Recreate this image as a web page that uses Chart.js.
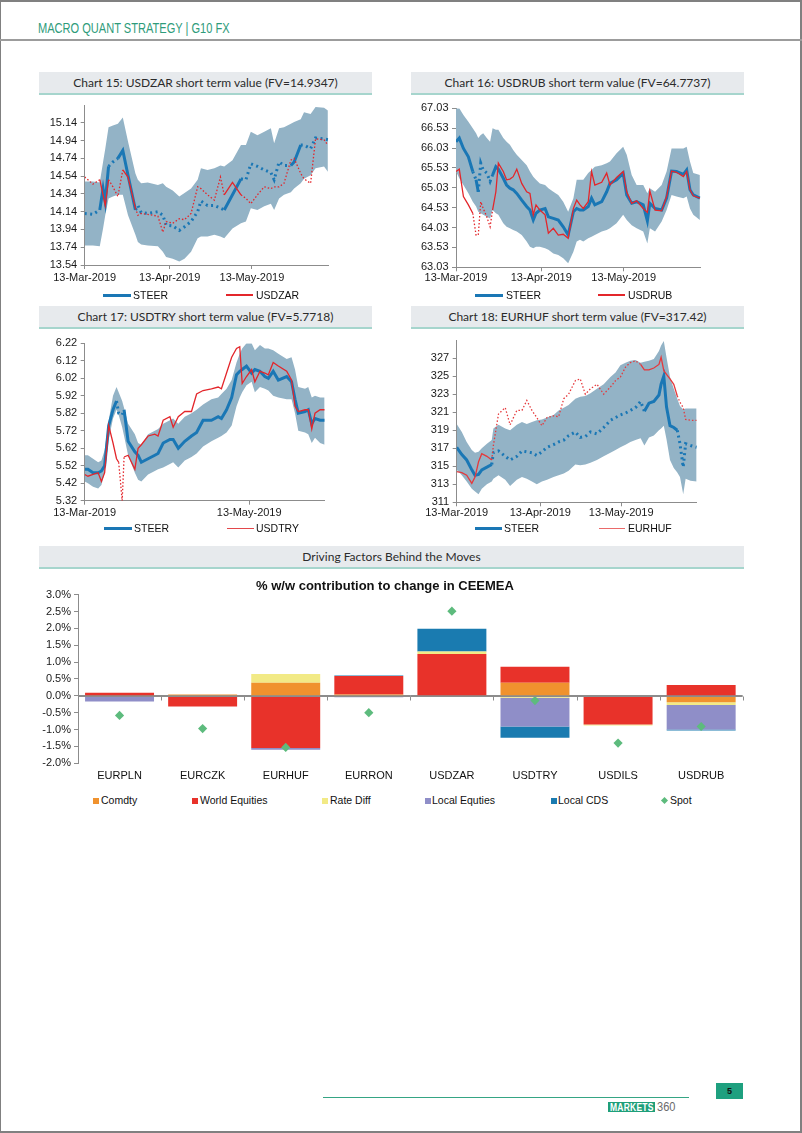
<!DOCTYPE html>
<html><head><meta charset="utf-8">
<script src="https://cdn.jsdelivr.net/npm/chart.js@4.4.1/dist/chart.umd.min.js"></script>
<style>
html,body{margin:0;padding:0;background:#fff}
body{width:802px;height:1133px;position:relative;overflow:hidden;font-family:'Liberation Sans',Arial,sans-serif}
.a{position:absolute}
.tbox{position:absolute;height:21px;background:#e7eaed;border-bottom:2px solid #a6d5cd;font-family:Lato,'Open Sans',sans-serif;font-weight:400;font-size:12px;color:#2b2b2b;text-align:center;line-height:22px}
.lg{position:absolute;font-size:10.5px;line-height:13px;color:#111;white-space:nowrap}
canvas{position:absolute}
</style></head><body>
<div class="a" style="left:0;top:0;width:802px;height:1133px;box-sizing:border-box;border:solid #808080;border-width:2px 2px 2px 1px"></div>
<div class="a" style="left:0;top:39px;width:802px;height:1.5px;background:#9c9c9c"></div>
<div class="a" style="left:38px;top:20.5px;font-size:14px;line-height:14px;color:#2e9b7a;white-space:nowrap;transform:scaleX(0.79);transform-origin:left top">MACRO QUANT STRATEGY | G10 FX</div>

<div class="tbox" style="left:39px;top:72px;width:333px">Chart 15: USDZAR short term value (FV=14.9347)</div>
<div class="tbox" style="left:411px;top:72px;width:333px">Chart 16: USDRUB short term value (FV=64.7737)</div>
<div class="tbox" style="left:39px;top:306px;width:333px">Chart 17: USDTRY short term value (FV=5.7718)</div>
<div class="tbox" style="left:411px;top:306px;width:333px">Chart 18: EURHUF short term value (FV=317.42)</div>
<div class="tbox" style="left:39px;top:546px;width:705px">Driving Factors Behind the Moves</div>

<canvas id="c15" width="334" height="195" style="left:38px;top:95px"></canvas>
<canvas id="c16" width="334" height="195" style="left:411px;top:95px"></canvas>
<canvas id="c17" width="334" height="195" style="left:38px;top:330px"></canvas>
<canvas id="c18" width="334" height="195" style="left:411px;top:330px"></canvas>
<canvas id="cBar" width="720" height="200" style="left:38px;top:585px"></canvas>

<!-- legends -->
<div class="a" style="left:103px;top:293.5px;width:28px;height:3px;background:#1a77b5"></div>
<div class="lg" style="left:133px;top:288.5px">STEER</div>
<div class="a" style="left:226px;top:294.2px;width:27px;height:1.6px;background:#e3262b"></div>
<div class="lg" style="left:256px;top:288.5px">USDZAR</div>

<div class="a" style="left:475px;top:293.5px;width:28px;height:3px;background:#1a77b5"></div>
<div class="lg" style="left:506px;top:288.5px">STEER</div>
<div class="a" style="left:598px;top:294.2px;width:27px;height:1.6px;background:#e3262b"></div>
<div class="lg" style="left:628px;top:288.5px">USDRUB</div>

<div class="a" style="left:104px;top:526.8px;width:27.5px;height:3px;background:#1a77b5"></div>
<div class="lg" style="left:134px;top:521.8px">STEER</div>
<div class="a" style="left:227px;top:527.5px;width:27px;height:1.6px;background:#e3474b"></div>
<div class="lg" style="left:256px;top:521.8px">USDTRY</div>

<div class="a" style="left:475px;top:526.8px;width:27px;height:3px;background:#1a77b5"></div>
<div class="lg" style="left:504px;top:521.8px">STEER</div>
<div class="a" style="left:599px;top:527.5px;width:26px;height:1.6px;background:#ea6a6a"></div>
<div class="lg" style="left:628px;top:521.8px">EURHUF</div>

<div class="a" style="left:0;top:578px;width:770px;text-align:center;font-weight:bold;font-size:13px;line-height:16px;color:#111">% w/w contribution to change in CEEMEA</div>

<div class="a" style="left:93px;top:797.7px;width:6px;height:6px;background:#f0922e"></div>
<div class="lg" style="left:101px;top:794.2px">Comdty</div>
<div class="a" style="left:192px;top:797.7px;width:6px;height:6px;background:#e8322a"></div>
<div class="lg" style="left:200px;top:794.2px">World Equities</div>
<div class="a" style="left:322px;top:797.7px;width:6px;height:6px;background:#f2ea86"></div>
<div class="lg" style="left:330px;top:794.2px">Rate Diff</div>
<div class="a" style="left:425px;top:797.7px;width:6px;height:6px;background:#8f8ec8"></div>
<div class="lg" style="left:432px;top:794.2px">Local Equties</div>
<div class="a" style="left:551px;top:797.7px;width:6px;height:6px;background:#1a7bb0"></div>
<div class="lg" style="left:558px;top:794.2px">Local CDS</div>
<div class="a" style="left:662px;top:797.7px;width:5px;height:5px;background:#5dbb7d;transform:rotate(45deg)"></div>
<div class="lg" style="left:670px;top:794.2px">Spot</div>

<!-- footer -->
<div class="a" style="left:323px;top:1096.8px;width:366px;height:1.5px;background:#35a584"></div>
<div class="a" style="left:716px;top:1083px;width:27px;height:16px;background:#1ea07f;color:#111;font-weight:bold;font-size:9px;line-height:16px;text-align:center">5</div>
<div class="a" style="left:608px;top:1101.5px;width:47px;height:10.5px;background:#1f9f7a"></div>
<div class="a" style="left:609.5px;top:1101px;font-weight:bold;font-size:11.5px;line-height:12px;color:#fff;white-space:nowrap;transform:scaleX(0.74);transform-origin:left top;letter-spacing:0.3px">MARKETS</div>
<div class="a" style="left:657px;top:1099.5px;font-size:13px;line-height:14px;color:#6a6a6a;white-space:nowrap;transform:scaleX(0.85);transform-origin:left top">360</div>

<script>
// ---------- Chart 15: USDZAR ----------
const zarDays  = [0,3.0,5.5,6.7,7.5,8.7,10.3,12.1,13.9,15.8,18.5,19.4,20.6,23.0,26.7,28.5,29.7,32.1,34.5,36.4,38.8,41.2,42.4,44.8,47.3,49.5,50.9,53.9,57.0,58.8,60.6,63.0,65.5,67.9,69.1,70.9,72.7,75.2,76.4,78.8,80.0,82.4,84.2,87.3,88.7];
const zarHi    = [14.48,14.48,14.47,14.70,14.85,15.09,15.11,15.13,15.20,14.93,14.57,14.50,14.46,14.47,14.44,14.46,14.42,14.38,14.31,14.35,14.40,14.50,14.63,14.61,14.63,14.66,14.65,14.72,14.89,14.89,15.04,15.00,15.04,15.08,14.91,15.08,15.09,15.13,15.15,15.18,15.26,15.24,15.32,15.31,15.28];
const zarLo    = [13.76,13.76,13.75,13.95,14.10,14.29,14.31,14.33,14.33,14.10,13.88,13.80,13.77,13.76,13.75,13.69,13.63,13.61,13.58,13.61,13.69,13.84,13.86,13.86,13.88,13.86,13.84,13.95,14.01,14.03,14.18,14.16,14.20,14.23,14.16,14.29,14.33,14.36,14.40,14.46,14.51,14.55,14.63,14.65,14.59];
const zarSteer = [14.12,14.11,14.16,14.40,14.25,14.65,14.70,14.74,14.83,14.55,14.16,14.21,14.13,14.12,14.14,14.10,13.99,13.98,13.93,13.97,14.03,14.14,14.26,14.21,14.21,14.18,14.16,14.33,14.51,14.50,14.68,14.65,14.61,14.58,14.50,14.70,14.66,14.66,14.70,14.89,14.89,14.85,14.97,14.96,14.95];
const zarSpot  = [14.53,14.45,14.50,14.33,14.21,14.50,14.42,14.31,14.61,14.53,14.18,14.10,14.12,14.11,14.09,13.91,14.03,14.01,14.06,14.05,14.12,14.42,14.40,14.33,14.27,14.53,14.33,14.47,14.33,14.29,14.23,14.33,14.42,14.40,14.42,14.42,14.46,14.72,14.74,14.57,14.51,14.46,14.96,14.95,14.89];
const zarSteerSolid = [0,0,1,1,1,0,0,1,1,1, 0,0,0,0,0,0,0,0,0,0, 0,0,0,0,0,0,1,1,0,0, 0,0,0,0,0,0,0,1,1,0, 0,0,0,0,0];
const zarSpotSolid  = [0,0,1,1,1,0,0,0,1,1, 0,0,0,0,0,0,0,0,0,0, 0,0,0,0,0,0,1,1,0,0, 0,0,0,0,0,0,0,0,0,0, 0,0,0,0,0];
const zarTicks = [13.54,13.74,13.94,14.14,14.34,14.54,14.74,14.94,15.14];

// ---------- Chart 16: USDRUB ----------
const rubDays  = [0,1.2,2.7,4.5,6.1,7.3,8.1,9.0,9.9,11.2,12.4,13.3,14.5,15.4,17.2,18.4,19.6,20.8,22.1,23.9,25.7,26.9,28.1,29.1,30.5,32.4,33.6,35.4,37.2,39.0,40.8,42.7,43.9,45.1,46.3,48.1,49.3,50.5,53.0,54.8,56.0,58.4,60.8,62.1,63.9,65.7,68.1,69.6,70.5,72.4,74.8,76.6,78.4,80.2,82.7,83.9,85.1,86.3,88.7];
const rubHi    = [67.03,67.03,66.86,66.69,66.53,66.40,66.28,66.36,66.40,66.28,66.19,66.53,66.49,66.49,66.28,66.19,66.11,65.98,65.86,65.73,65.60,65.44,65.31,65.23,65.14,65.10,65.02,64.93,64.85,64.68,64.43,64.77,65.23,65.23,65.23,65.40,65.48,65.56,65.60,65.65,65.69,65.90,66.06,65.86,65.35,65.10,65.10,64.89,65.02,64.93,65.10,65.44,66.02,66.02,66.02,66.06,65.69,65.40,65.35];
const rubLo    = [65.44,65.27,65.10,64.89,64.68,64.56,64.43,64.39,64.35,64.30,64.26,64.47,64.39,64.35,64.14,64.05,64.01,63.97,63.93,63.84,63.68,63.55,63.51,63.55,63.55,63.51,63.47,63.38,63.34,63.26,63.13,63.42,63.68,63.72,63.68,63.76,63.80,63.84,63.93,63.97,64.01,64.14,64.35,64.22,64.09,64.01,63.93,63.63,64.01,63.93,64.18,64.47,64.85,64.81,64.77,64.81,64.51,64.35,64.22];
const rubSteer = [66.19,66.28,66.02,65.81,65.44,65.23,64.93,65.65,65.48,65.40,65.19,65.35,65.56,65.50,65.27,65.10,65.02,64.98,64.89,64.72,64.56,64.47,64.22,64.39,64.47,64.51,64.30,64.26,64.22,64.05,63.84,64.43,64.51,64.47,64.47,64.56,64.77,64.60,64.68,64.93,65.14,65.23,65.40,64.85,64.64,64.68,64.60,64.20,64.64,64.51,64.47,64.77,65.45,65.44,65.37,65.48,64.98,64.85,64.77];
const rubSpot  = [65.44,65.50,64.81,64.60,64.39,63.84,63.84,64.68,64.51,64.30,64.05,64.47,64.93,65.65,65.44,65.23,65.25,65.31,65.50,65.14,64.93,64.89,64.35,64.60,64.47,64.35,63.89,64.01,63.84,63.86,63.76,64.51,64.72,64.60,64.51,64.68,65.44,65.10,65.17,65.40,65.10,65.29,65.44,64.93,64.64,64.70,64.51,64.41,64.95,64.47,64.45,64.81,65.45,65.42,65.31,65.44,64.98,64.83,64.77];
const rubSteerSolid = [1,1,1,1,0,1,0,0,0,0, 0,1,1,1,1,1,1,1,1,1, 1,1,1,1,1,1,1,1,1,1, 1,1,1,1,1,1,1,1,1,1, 1,1,1,1,1,1,1,1,1,1, 1,1,1,1,1,1,1,1,1];
const rubSpotSolid  = [1,1,1,1,0,0,0,0,0,0, 0,1,1,1,1,1,1,1,1,1, 1,1,1,1,1,1,1,1,1,1, 1,1,1,1,1,1,1,1,1,1, 1,1,1,1,1,1,1,1,1,1, 1,1,1,1,1,1,1,1,1];
const rubTicks = [63.03,63.53,64.03,64.53,65.03,65.53,66.03,66.53,67.03];

// ---------- Chart 17: USDTRY ----------
const tryDays  = [0,1.2,3.1,5.0,6.2,7.4,8.9,10.5,11.8,12.6,13.9,14.6,16.1,18.6,19.8,21.0,23.5,26.0,27.2,29.1,31.6,32.8,34.7,37.1,39.6,41.5,43.9,47.0,49.5,50.7,52.6,54.5,56.3,57.5,58.4,60.0,61.9,63.1,65.0,66.8,68.1,69.9,71.8,74.9,76.7,78.0,79.2,81.7,82.9,84.2,85.4,87.3,89];
const tryHi    = [5.58,5.58,5.56,5.54,5.55,5.61,5.78,5.92,5.97,5.94,5.89,5.85,5.76,5.70,5.65,5.64,5.70,5.72,5.73,5.76,5.78,5.79,5.76,5.80,5.82,5.84,5.87,5.90,5.91,5.93,5.96,6.01,6.11,6.16,6.19,6.22,6.22,6.18,6.21,6.19,6.19,6.18,6.16,6.13,6.14,6.07,5.97,5.96,5.97,5.91,5.92,5.91,5.91];
const tryLo    = [5.43,5.42,5.40,5.39,5.41,5.48,5.67,5.79,5.84,5.81,5.74,5.69,5.58,5.48,5.44,5.43,5.47,5.49,5.50,5.51,5.53,5.54,5.51,5.55,5.57,5.59,5.63,5.66,5.68,5.69,5.71,5.75,5.86,5.91,5.94,5.98,6.00,5.94,5.97,5.96,5.95,5.92,5.91,5.90,5.90,5.82,5.72,5.71,5.70,5.65,5.68,5.65,5.64];
const trySteer = [5.50,5.50,5.48,5.48,5.49,5.52,5.75,5.84,5.89,5.82,5.81,5.84,5.66,5.60,5.58,5.54,5.56,5.58,5.59,5.65,5.67,5.67,5.62,5.66,5.69,5.71,5.78,5.78,5.80,5.79,5.84,5.91,6.04,6.06,6.07,6.09,6.05,6.07,6.06,6.03,6.02,6.06,6.01,6.03,6.00,5.90,5.82,5.83,5.84,5.76,5.79,5.78,5.78];
const trySpot  = [5.47,5.46,5.47,5.48,5.43,5.48,5.75,5.65,5.56,5.54,5.32,5.57,5.58,5.50,5.62,5.64,5.69,5.70,5.69,5.78,5.80,5.74,5.80,5.83,5.83,5.93,5.95,5.96,5.97,5.96,6.05,6.14,6.19,6.20,5.99,6.03,6.07,6.00,6.06,6.05,6.04,6.11,6.09,6.06,6.01,5.86,5.83,5.84,5.84,5.73,5.82,5.84,5.84];
const trySteerSolid = [1,1,1,1,1,1,1,1,0,0, 0,1,1,1,1,1,1,1,1,1, 1,1,1,1,1,1,1,1,1,1, 1,1,1,1,1,1,1,1,1,1, 1,1,1,1,1,1,1,1,1,1, 1,1,1];
const trySpotSolid  = [1,1,1,1,1,1,1,1,1,0, 0,1,1,1,1,1,1,1,1,1, 1,1,1,1,1,1,1,1,1,1, 1,1,1,1,1,1,1,1,1,1, 1,1,1,1,1,1,1,1,1,1, 1,1,1];
const tryTicks = [5.32,5.42,5.52,5.62,5.72,5.82,5.92,6.02,6.12,6.22];

// ---------- Chart 18: EURHUF ----------
const hufDays  = [0,1.9,3.7,5.6,6.8,8.1,9.3,11.2,13.0,13.6,15.5,18.0,19.8,22.3,24.2,26.0,27.9,29.7,31.6,33.5,35.9,37.8,39.7,41.5,44.0,45.8,47.7,49.6,52.0,54.5,57.0,58.9,60.7,62.6,64.4,66.3,68.2,69.6,71.3,73.1,75.0,75.8,76.8,77.8,79.1,80.5,81.8,82.8,84.0,84.9,86.7,89];
const hufHi    = [319.7,318.8,317.7,316.8,316.5,316.6,317.0,317.5,317.9,319.2,319.6,319.2,319.0,319.6,319.9,319.7,319.9,320.1,320.2,320.4,320.7,321.2,321.5,321.8,322.5,322.7,322.8,323.1,323.6,324.1,324.9,325.4,326.2,326.5,326.7,326.8,326.5,326.6,326.7,326.9,327.8,328.4,328.9,327.1,324.9,323.6,322.5,321.7,321.3,321.4,321.4,321.4];
const hufLo    = [314.6,314.0,313.3,312.5,312.2,311.9,312.5,313.0,313.3,313.6,314.0,313.5,312.8,313.5,313.8,313.6,313.3,313.0,313.3,313.5,313.8,314.0,314.2,314.5,315.2,315.1,315.2,315.4,315.7,316.1,316.5,316.8,317.1,317.4,317.7,317.9,318.1,317.3,318.2,318.4,319.0,319.2,319.5,318.0,315.7,314.8,314.3,313.8,311.9,313.6,313.4,313.3];
const hufSteer = [317.1,316.3,315.7,314.6,314.0,314.1,314.6,314.9,315.2,316.5,316.7,316.1,315.7,316.1,316.7,316.6,316.5,316.2,316.6,317.1,317.4,317.7,317.9,318.4,318.8,318.2,318.3,318.8,318.6,319.3,320.1,320.4,320.7,320.9,321.2,321.5,322.2,321.1,322.0,322.2,322.9,324.1,325.0,321.6,319.5,319.3,319.0,317.5,314.9,317.5,317.3,317.1];
const hufSpot  = [314.4,314.3,314.0,313.1,313.8,315.5,316.4,316.1,315.7,317.3,320.8,321.5,319.6,321.2,321.2,322.3,321.2,320.4,319.5,320.4,320.6,320.5,322.5,323.0,324.5,324.7,323.0,323.6,324.1,323.0,323.8,324.5,324.9,326.0,326.5,326.7,326.3,325.7,325.7,325.9,326.3,327.1,325.6,325.2,324.7,324.1,322.8,322.1,321.5,320.2,320.1,320.1];
const hufSteerSolid = [1,1,1,1,1,1,1,1,0,0, 0,0,0,0,0,0,0,0,0,0, 0,0,0,0,0,0,0,0,0,0, 0,0,0,0,0,0,0,1,1,1, 1,1,1,1,1,1,0,0,0,0, 0,0];
const hufSpotSolid  = [1,1,1,1,1,1,1,1,0,0, 0,0,0,0,0,0,0,0,0,0, 0,0,0,0,0,0,0,0,0,0, 0,0,0,0,0,0,1,1,1,1, 1,1,1,1,1,1,0,0,0,0, 0,0];
const hufTicks = [311,313,315,317,319,321,323,325,327];

// ---------- shared x-axis ----------
const dateTickDays   = [0,31,61];
const dateTickLabels = ['13-Mar-2019','13-Apr-2019','13-May-2019'];
const tryTickDays    = [0,61];
const tryTickLabels  = ['13-Mar-2019','13-May-2019'];

// ---------- Driving factors ----------
const barCats  = ['EURPLN','EURCZK','EURHUF','EURRON','USDZAR','USDTRY','USDILS','USDRUB'];
const comdty   = [0.02, 0.04, 0.39, 0.04, 0.00, 0.39, -0.03, -0.19];
const worldEq  = [0.07, -0.32, -1.55, 0.55, 1.24, 0.47, -0.82, 0.32];
const rateDiff = [0.00, 0.00, 0.26, 0.00, 0.07, -0.06, -0.03, -0.08];
const localEq  = [-0.17, 0.00, -0.05, -0.04, 0.00, -0.85, 0.00, -0.73];
const localCds = [0.00, 0.00, 0.00, 0.01, 0.68, -0.33, 0.00, -0.03];
const spotMove = [-0.58, -0.97, -1.53, -0.50, 2.51, -0.14, -1.40, -0.91];

const BLUE='#1a77b5', RED='#e3262b', BAND='#93b3c6', AXIS='#8c8c8c', GREEN='#5dbb7d';
Chart.defaults.font.family="'Liberation Sans', Arial, sans-serif";
Chart.defaults.font.size=11;
Chart.defaults.color='#1a1a1a';
Chart.defaults.animation=false;

function lineChart(c){
  const seg=(flags,dash)=>({borderDash:ctx=>flags[ctx.p0DataIndex]?undefined:dash});
  const pts=arr=>arr.map((v,i)=>({x:c.days[i],y:v}));
  new Chart(document.getElementById(c.id),{
    type:'line',
    data:{datasets:[
      {label:c.spotLabel,data:pts(c.spot),borderColor:c.red,borderWidth:1.3,pointRadius:0,tension:0,segment:seg(c.spotSolid,[1.5,2]),order:0},
      {label:'STEER',data:pts(c.steer),borderColor:BLUE,borderWidth:3,pointRadius:0,tension:0,segment:seg(c.steerSolid,[2,3.5]),order:1},
      {label:'hi',data:pts(c.hi),borderWidth:0,borderColor:'transparent',pointRadius:0,fill:false,order:2},
      {label:'lo',data:pts(c.lo),borderWidth:0,borderColor:'transparent',pointRadius:0,fill:'-1',backgroundColor:BAND,order:3}
    ]},
    options:{
      responsive:false,animation:false,events:[],
      layout:{padding:c.pad},
      plugins:{legend:{display:false},tooltip:{enabled:false}},
      scales:{
        x:{type:'linear',min:0,max:89,
          afterBuildTicks:s=>{s.ticks=c.xTickDays.map(v=>({value:v}));},
          afterFit:s=>{s.height=c.xh;},
          ticks:{autoSkip:false,maxRotation:0,padding:c.xpad,callback:(v,i)=>c.xTickLabels[i]},
          grid:{display:true,drawOnChartArea:false,drawTicks:true,tickLength:4,tickColor:AXIS},
          border:{display:true,color:AXIS}},
        y:{min:c.yMin,max:c.yMax,
          afterBuildTicks:s=>{s.ticks=c.yTicks.map(v=>({value:v}));},
          afterFit:s=>{s.width=c.yw;},
          ticks:{padding:3.5,callback:v=>Number(v).toFixed(c.dec)},
          grid:{display:true,drawOnChartArea:false,drawTicks:true,tickLength:4,tickColor:AXIS},
          border:{display:true,color:AXIS}}
      }
    }
  });
}

lineChart({id:'c15',days:zarDays,hi:zarHi,lo:zarLo,steer:zarSteer,spot:zarSpot,steerSolid:zarSteerSolid,spotSolid:zarSpotSolid,spotLabel:'USDZAR',red:RED,
  pad:{left:0.7,right:43.3,top:9.8,bottom:0},yw:46,xh:25,xpad:2,yMin:13.54,yMax:15.34,yTicks:zarTicks,dec:2,xTickDays:dateTickDays,xTickLabels:dateTickLabels});
lineChart({id:'c16',days:rubDays,hi:rubHi,lo:rubLo,steer:rubSteer,spot:rubSpot,steerSolid:rubSteerSolid,spotSolid:rubSpotSolid,spotLabel:'USDRUB',red:RED,
  pad:{left:1,right:44.3,top:13.3,bottom:0},yw:44,xh:22.7,xpad:0.5,yMin:63.03,yMax:67.03,yTicks:rubTicks,dec:2,xTickDays:dateTickDays,xTickLabels:dateTickLabels});
lineChart({id:'c17',days:tryDays,hi:tryHi,lo:tryLo,steer:trySteer,spot:trySpot,steerSolid:trySteerSolid,spotSolid:trySpotSolid,spotLabel:'USDTRY',red:RED,
  pad:{left:0.7,right:47.3,top:13.3,bottom:0},yw:46,xh:24.3,xpad:1.5,yMin:5.32,yMax:6.22,yTicks:tryTicks,dec:2,xTickDays:tryTickDays,xTickLabels:tryTickLabels});
lineChart({id:'c18',days:hufDays,hi:hufHi,lo:hufLo,steer:hufSteer,spot:hufSpot,steerSolid:hufSteerSolid,spotSolid:hufSpotSolid,spotLabel:'EURHUF',red:'#e5393c',
  pad:{left:1.7,right:48.3,top:9.2,bottom:0},yw:44,xh:22.7,xpad:0.5,yMin:311,yMax:329,yTicks:hufTicks,dec:0,xTickDays:dateTickDays,xTickLabels:dateTickLabels});

// zero line + category-boundary tick marks for the bar chart
const zeroAxis={id:'zeroAxis',afterDatasetsDraw(ch){
  const xs=ch.scales.x, ys=ch.scales.y, ctx=ch.ctx;
  const y0=Math.round(ys.getPixelForValue(0))+0.5, n=ch.data.labels.length;
  ctx.save(); ctx.strokeStyle=AXIS; ctx.lineWidth=1;
  ctx.beginPath(); ctx.moveTo(xs.left,y0); ctx.lineTo(xs.right,y0); ctx.stroke();
  for(let i=0;i<=n;i++){const x=Math.round(xs.getPixelForValue(i-0.5))+0.5;
    ctx.beginPath(); ctx.moveTo(x,y0); ctx.lineTo(x,y0+4); ctx.stroke();}
  ctx.restore();
}};

const barDs=(label,data,color)=>({type:'bar',label,data,backgroundColor:color,borderWidth:0,stack:'f',order:1,barPercentage:0.83,categoryPercentage:1});
new Chart(document.getElementById('cBar'),{
  data:{labels:barCats,datasets:[
    {type:'line',label:'Spot',data:spotMove,showLine:false,pointStyle:'rectRot',pointRadius:4.6,pointBackgroundColor:GREEN,pointBorderWidth:0,borderColor:GREEN,stack:'spot',order:0},
    barDs('Comdty',comdty,'#f0922e'),
    barDs('World Equities',worldEq,'#e8322a'),
    barDs('Rate Diff',rateDiff,'#f2ea86'),
    barDs('Local Equties',localEq,'#8f8ec8'),
    barDs('Local CDS',localCds,'#1a7bb0')
  ]},
  options:{
    responsive:false,animation:false,events:[],
    layout:{padding:{left:0,right:15.3,top:9.3,bottom:0}},
    plugins:{legend:{display:false},tooltip:{enabled:false}},
    scales:{
      x:{stacked:true,afterFit:s=>{s.height=21.7;},
        ticks:{padding:6,autoSkip:false,maxRotation:0,color:'#111'},
        grid:{display:false,drawTicks:false},border:{display:false}},
      y:{stacked:true,min:-2,max:3,afterFit:s=>{s.width=40;},
        ticks:{stepSize:0.5,padding:3,callback:v=>Number(v).toFixed(1)+'%'},
        grid:{display:true,drawTicks:true,tickLength:4,tickColor:AXIS,color:ctx=>ctx.tick&&ctx.tick.value===0?AXIS:'rgba(0,0,0,0)'},
        border:{display:true,color:AXIS}}
    }
  },
  plugins:[zeroAxis]
});
</script>
</body></html>
